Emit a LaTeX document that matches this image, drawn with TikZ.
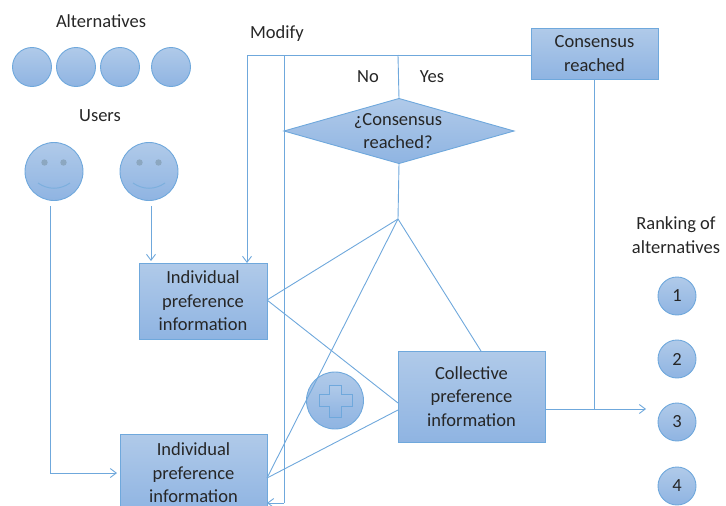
\documentclass[tikz,border=0pt]{standalone}
\usepackage{fontspec}
\setmainfont{Carlito}
\usetikzlibrary{shapes,arrows,positioning,arrows.meta}
\definecolor{edgeblue}{HTML}{6FA8DC}
\definecolor{lightblue}{HTML}{B0CAE9}
\definecolor{darkblue}{HTML}{8FB4E2}
\definecolor{inkblue}{HTML}{5B9BD5}
\tikzset{
    filled/.style = {draw=edgeblue, line width=0.9pt, top color=lightblue, bottom color=darkblue, outer sep=0pt},
    infobox/.style = {filled, rectangle, align=center, inner sep=0pt, font=\fontsize{18.5}{23.5}\selectfont, text=black!85},
    ball/.style = {filled, circle, inner sep=0pt, font=\fontsize{18.5}{23.5}\selectfont, text=black!85},
    label/.style = {align=center, inner sep=0pt, font=\fontsize{18.5}{23.5}\selectfont, text=black!85},
    line/.style = {draw=edgeblue, line width=0.9pt},
    arrowline/.style = {line, -{Straight Barb[length=6pt,width=9pt]}},
}

\begin{document}
\begin{tikzpicture}[x=1pt,y=-1pt]
    \useasboundingbox (0,0) rectangle (726,506);
    \clip (0,0) rectangle (726,506);

    % top labels
    \node[label] (alternatives) at (101,21) {Alternatives};
    \node[label] (users) at (100,116) {Users};
    \node[label] (modify) at (277,33.5) {Modify};
    \node[label] (no) at (368,77) {No};
    \node[label] (yes) at (432,77) {Yes};
    \node[label] (ranking) at (676,235) {Ranking of\\alternatives};

    % alternatives
    \foreach \x/\name in {32/a,76/b,120/c,171/d}
    {
        \node[ball, minimum size=39pt] (alt\name) at (\x,67) {};
    };

    % users
    \foreach \x/\name in {54/one,149/two}
    {
        \node[ball, minimum size=58pt] (user\name) at (\x,171.5) {};
        \fill[inkblue!70!black!60] (\x-9.5,162.5) circle (3.2pt);
        \fill[inkblue!70!black!60] (\x+9.5,162.5) circle (3.2pt);
        \draw[inkblue!80, line width=1pt] (\x-16,183) .. controls (\x-6,190) and (\x+6,190) .. (\x+16,183);
    };

    % ranking
    \foreach \y/\num in {296/1,359/2,422/3,486/4}
    {
        \node[ball, minimum size=38pt] (rank\num) at (677,\y) {\num};
    };

    % boxes
    \node[infobox, minimum width=128pt, minimum height=76pt] (indiv1) at (203,301) {Individual\\preference\\information};
    \node[infobox, minimum width=147pt, minimum height=78pt] (indiv2) at (193.5,473) {Individual\\preference\\information};
    \node[infobox, minimum width=147pt, minimum height=91pt] (collective) at (471.5,396.5) {Collective\\preference\\information};
    \node[infobox, minimum width=127pt, minimum height=51pt] (reached) at (594.5,53.5) {Consensus\\reached};

    % decision
    \node[filled, diamond, aspect=3.54, inner sep=0pt, minimum width=230pt, minimum height=65pt] (decision) at (399,131) {};
    \node[label] (decisiontext) at (398,131) {¿Consensus\\reached?};

    % plus
    \node[ball, minimum size=57pt] (sum) at (335,400.5) {};
    \draw[filled] (329,385) -- (341,385) -- (341,394.5) -- (352,394.5) -- (352,406.5) -- (341,406.5)
        -- (341,417) -- (329,417) -- (329,406.5) -- (319,406.5) -- (319,394.5) -- (329,394.5) -- cycle;

    \coordinate (topleft) at (247,55);
    \coordinate (topbar) at (284,55);
    \coordinate (topmid) at (398,55);
    \coordinate (bottombar) at (284,503);
    \coordinate (merge) at (398,219);
    \coordinate (join) at (595,409);
    \coordinate (ind1in) at (247,263);
    \coordinate (ind1out) at (267,300);
    \coordinate (ind2out) at (267,478);
    \coordinate (ind2back) at (267,503);
    \coordinate (ind2in) at (117,473);
    \coordinate (colin1) at (398,403);
    \coordinate (colin2) at (398,410);
    \coordinate (colout) at (545,409);
    \coordinate (rankin) at (646,409);
    \coordinate (colup) at (481,351);
    \coordinate (user1down) at (50,206);
    \coordinate (user1turn) at (50,473);
    \coordinate (user2down) at (151,206);
    \coordinate (user2in) at (151,261);

    % modify loop
    \path[line] (reached.west |- topleft) -- (topleft);
    \path[arrowline] (topleft) -- (ind1in);
    \path[line] (topbar) -- (bottombar);
    \path[arrowline] (bottombar) -- (ind2back);
    \path[line] (topmid) -- (decision.north);

    % aggregation
    \path[line] (decision.south) -- (merge);
    \path[line] (merge) -- (ind1out);
    \path[line] (merge) -- (ind2out);
    \path[line] (merge) -- (colup);
    \path[line] (ind1out) -- (colin1);
    \path[line] (ind2out) -- (colin2);

    % output
    \path[arrowline] (colout) -- (rankin);
    \path[line] (reached.south |- reached.south) -- (reached.south |- join);

    % users to boxes
    \path[line] (user1down) -- (user1turn);
    \path[arrowline] (user1turn) -- (ind2in);
    \path[arrowline] (user2down) -- (user2in);
\end{tikzpicture}
\end{document}
